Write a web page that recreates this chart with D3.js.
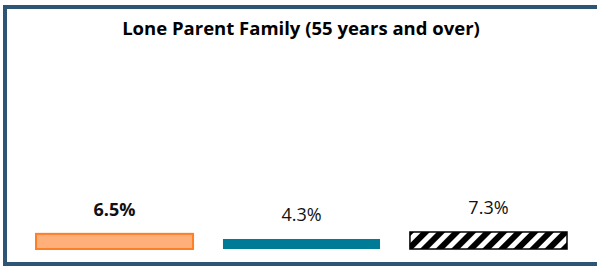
<!DOCTYPE html>
<html>
<head>
<meta charset="utf-8">
<script src="https://cdn.jsdelivr.net/npm/d3@7"></script>
<style>
  body { margin: 0; background: #fff; }
  svg { display: block; font-family: 'Open Sans', 'Liberation Sans', sans-serif; }
</style>
</head>
<body>
<div id="chart"></div>
<script>
// chart data
const title = 'Lone Parent Family (55 years and over)';
const categories = ['A', 'B', 'C'];
const values = [6.5, 4.3, 7.3];
const labels = ['6.5%', '4.3%', '7.3%'];

const W = 597;
const H = 267;

const svg = d3.select('#chart')
  .append('svg')
  .attr('width', W)
  .attr('height', H);

// hatch pattern for third bar
const defs = svg.append('defs');
const pat = defs.append('pattern')
  .attr('id', 'hatch')
  .attr('patternUnits', 'userSpaceOnUse')
  .attr('width', 11)
  .attr('height', 11)
  .attr('patternTransform', 'rotate(45)');
pat.append('rect').attr('width', 11).attr('height', 11).attr('fill', '#fff');
pat.append('rect').attr('width', 6).attr('height', 11).attr('fill', '#000');

// frame
const frame = '#2E5573';
svg.append('rect').attr('x', 3).attr('y', 5).attr('width', W - 3).attr('height', 4).attr('fill', frame);
svg.append('rect').attr('x', 3).attr('y', 5).attr('width', 4).attr('height', 261).attr('fill', frame);
svg.append('rect').attr('x', 3).attr('y', 262).attr('width', W - 3).attr('height', 4).attr('fill', frame);

svg.append('text')
  .attr('x', 301)
  .attr('y', 35)
  .attr('text-anchor', 'middle')
  .attr('font-size', 18.5)
  .attr('font-weight', 'bold')
  .attr('fill', '#000')
  .text(title);

// scales
const x = d3.scaleBand()
  .domain(categories)
  .range([36, 567])
  .paddingInner(0.16)
  .paddingOuter(0);
const y = d3.scaleLinear().domain([0, 100]).range([249, 16]);

const styles = [
  { fill: '#FFAF7A', stroke: '#FF7F27', sw: 2 },
  { fill: '#007B96', stroke: 'none', sw: 0 },
  { fill: 'url(#hatch)', stroke: '#000', sw: 1.5 }
];

svg.selectAll('rect.bar')
  .data(values)
  .enter()
  .append('rect')
  .attr('class', 'bar')
  .attr('x', (d, i) => x(categories[i]))
  .attr('y', d => y(d))
  .attr('width', x.bandwidth())
  .attr('height', d => y(0) - y(d))
  .attr('fill', (d, i) => styles[i].fill)
  .attr('stroke', (d, i) => styles[i].stroke)
  .attr('stroke-width', (d, i) => styles[i].sw);

svg.selectAll('text.lbl')
  .data(values)
  .enter()
  .append('text')
  .attr('class', 'lbl')
  .attr('x', (d, i) => x(categories[i]) + x.bandwidth() / 2)
  .attr('y', d => y(d) - 17.5)
  .attr('text-anchor', 'middle')
  .attr('font-size', 18)
  .attr('font-weight', (d, i) => i === 0 ? 'bold' : 'normal')
  .attr('fill', '#111')
  .text((d, i) => labels[i]);
</script>
</body>
</html>
